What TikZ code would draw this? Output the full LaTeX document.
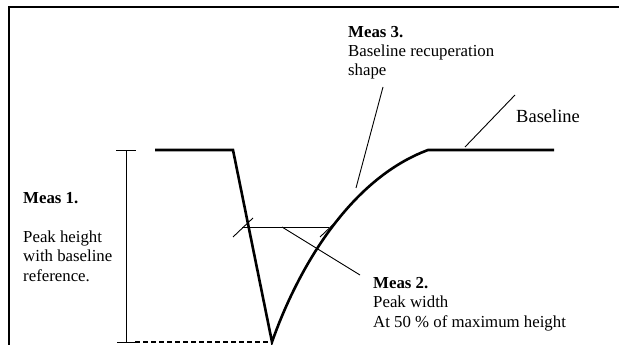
\documentclass[tikz,border=0pt]{standalone}
\usepackage{fontspec}
\setmainfont{Liberation Serif}
\usetikzlibrary{calc,positioning}

\tikzset{
  signal/.style={black, line width=2.6pt},
  thinline/.style={black, line width=0.9pt},
  measlabel/.style={inner sep=0pt, anchor=base west, align=left,
    font=\fontsize{16.8}{19.5}\selectfont},
}

\begin{document}
\begin{tikzpicture}[x=1pt, y=-1pt]
 \useasboundingbox (0,0) rectangle (619,345);
 \draw[line width=2.6pt] (9,345) -- (9,7) -- (619,7);

 \coordinate (start) at (155,150);
 \coordinate (drop) at (233,150);
 \coordinate (peak) at (272,342);
 \coordinate (knee) at (428,150);
 \coordinate (stop) at (554,150);

 \draw[signal] (start) -- (drop) -- (peak) .. controls (298,268) and (350,179) .. (knee) -- (stop);

 % peak height
 \draw[thinline] (126,150) -- (126,342);
 \draw[thinline] (116,150) -- (136,150);
 \draw[thinline] (117,342) -- (135,342);
 \draw[line width=1.8pt, dash pattern=on 5pt off 3pt] (135,342) -- (peak);

 % peak width
 \draw[thinline] (242,227) -- (329,227);
 \draw[thinline] (233,237) -- (253,218);
 \draw[thinline] (320,237) -- (340,218);

 % labels (anchored on the baseline of their last line)
 \node[measlabel] (meas1) at (23,281) {\textbf{Meas 1.}\\[19.5pt]Peak height\\with baseline\\reference.};
 \node[measlabel] (meas2) at (373,327) {\textbf{Meas 2.}\\Peak width\\At 50 \% of maximum height};
 \node[measlabel] (meas3) at (348,76) {\textbf{Meas 3.}\\Baseline recuperation\\shape};
 \node[inner sep=0pt, anchor=base west, font=\fontsize{18.5}{22}\selectfont] (base) at (516,122) {Baseline};

 \coordinate (m2 foot) at (360,275);
 \coordinate (m2 tip) at (282,227);
 \coordinate (m3 foot) at (383,87);
 \coordinate (m3 tip) at (356,188);
 \coordinate (base foot) at (515,95);
 \coordinate (base tip) at (465,147);
 \draw[thinline] (m2 foot) -- (m2 tip);
 \draw[thinline] (m3 foot) -- (m3 tip);
 \draw[thinline] (base foot) -- (base tip);
\end{tikzpicture}
\end{document}
